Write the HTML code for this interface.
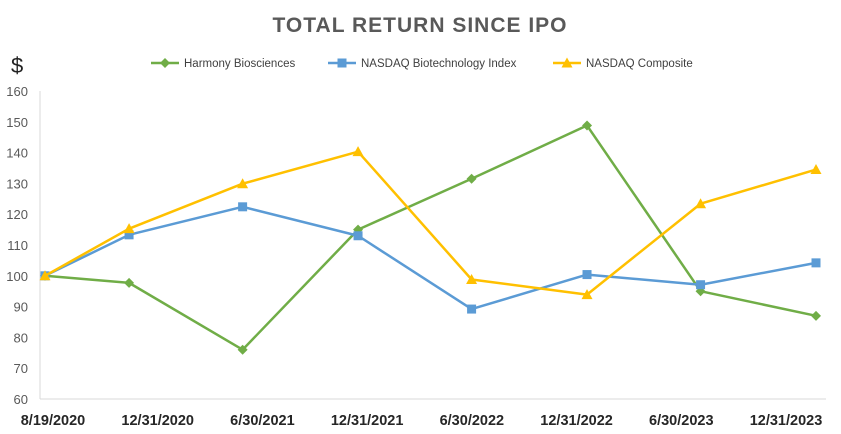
<!DOCTYPE html>
<html><head><meta charset="utf-8"><style>
body{margin:0;background:#fff;width:841px;height:429px;overflow:hidden;font-family:"Liberation Sans",sans-serif}
</style></head><body>
<svg id="chart" width="841" height="429">
<text x="420" y="32" text-anchor="middle" font-size="21" font-weight="bold" fill="#595959" letter-spacing="1">TOTAL RETURN SINCE IPO</text>
<text x="11" y="73" font-size="22" fill="#222">$</text>
<g id="legend"></g>
<g id="axes"></g>
<g id="series"></g>
</svg>
<script>
const dates=["2020-08-19","2020-12-31","2021-06-30","2021-12-31","2022-06-30","2022-12-31","2023-06-30","2023-12-31"];
const labels=["8/19/2020","12/31/2020","6/30/2021","12/31/2021","6/30/2022","12/31/2022","6/30/2023","12/31/2023"];
const harmony=[100,97.7,76,115,131.5,148.8,95,87];
const biotech=[100,113.3,122.4,113,89.2,100.4,97.1,104.2];
const composite=[100,115.3,129.9,140.3,98.8,93.9,123.4,134.5];
const yTicks=[60,70,80,90,100,110,120,130,140,150,160];
const seriesNames=["Harmony Biosciences","NASDAQ Biotechnology Index","NASDAQ Composite"];
const NS="http://www.w3.org/2000/svg";
const t0=Date.parse(dates[0]),t1=Date.parse(dates[dates.length-1]);
function x(d){return 45+(Date.parse(d)-t0)/(t1-t0)*(816-45);}
function y(v){return 399-(v-60)/100*308;}
function lx(i){return 53+i*(786-53)/(labels.length-1);}
function mk(tag,attrs,parent){const e=document.createElementNS(NS,tag);for(const k in attrs)e.setAttribute(k,attrs[k]);parent.appendChild(e);return e;}
const axes=document.getElementById('axes');
const ax1=mk('line',{x1:40,y1:91,x2:40,y2:399,stroke:'#d9d9d9','stroke-width':1},axes);


const ax2=mk('line',{x1:40,y1:399,x2:826,y2:399,stroke:'#d9d9d9','stroke-width':1},axes);


yTicks.forEach(v=>{const t=mk('text',{x:28,y:y(v)+5,'text-anchor':'end','font-size':13,fill:'#595959'},axes);t.textContent=v;

});
labels.forEach((l,i)=>{const t=mk('text',{x:lx(i),y:425,'text-anchor':'middle','font-size':14.5,'font-weight':'bold',fill:'#262626'},axes);t.textContent=l;

});
const colors=["#70ad47","#5b9bd5","#ffc000"];
const data=[harmony,biotech,composite];
const sg=document.getElementById('series');
function marker(k,cx,cy,g){
 let e;
 if(k==0)e=mk('polygon',{points:`${cx},${cy-5} ${cx+5},${cy} ${cx},${cy+5} ${cx-5},${cy}`,fill:colors[0]},g);
 else if(k==1)e=mk('rect',{x:cx-4.5,y:cy-4.5,width:9,height:9,fill:colors[1]},g);
 else e=mk('polygon',{points:`${cx},${cy-5.5} ${cx+5.5},${cy+4.5} ${cx-5.5},${cy+4.5}`,fill:colors[2]},g);
 return e;}
data.forEach((s,k)=>{
 const g=mk('g',{},sg);
 
 
 const p=mk('polyline',{points:s.map((v,i)=>x(dates[i])+','+y(v)).join(' '),fill:'none',stroke:colors[k],'stroke-width':2.5,'stroke-linejoin':'round'},g);
 
 
 s.forEach((v,i)=>{const m=marker(k,x(dates[i]),y(v),g);
 
 });
});
const lg=document.getElementById('legend');
const legX=[151,328,553];
seriesNames.forEach((n,k)=>{
 const g=mk('g',{},lg);
 
 
 mk('line',{x1:legX[k],y1:63,x2:legX[k]+28,y2:63,stroke:colors[k],'stroke-width':2.5},g);
 marker(k,legX[k]+14,63,g);
 const t=mk('text',{x:legX[k]+33,y:67,'font-size':11.5,fill:'#404040'},g);t.textContent=n;
});
</script>
</body></html>
